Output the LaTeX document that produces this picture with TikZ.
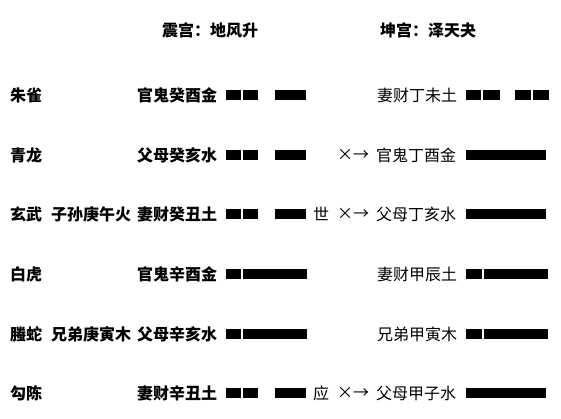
\documentclass[tikz,border=0pt]{standalone}
\usepackage{fontspec}
\setmainfont{Noto Sans CJK SC}
\begin{document}
\begin{tikzpicture}[x=1pt,y=-1pt,
  txt/.style={anchor=west,inner sep=0pt,font=\fontsize{16}{17}\selectfont},
  btxt/.style={txt,font=\fontsize{16}{17}\selectfont\bfseries},
  bar/.style={fill=black}]
\useasboundingbox (0,0) rectangle (561,419);
% titles
\node[btxt] (t1) at (162,30) {震宫：地风升};
\node[btxt] (t2) at (380,30) {坤宫：泽天夬};
% rows
\def\ra{95}\def\rb{155}\def\rc{214}\def\rd{274}\def\re{334}\def\rf{393}
\node[btxt] (g1) at (10,\ra) {朱雀};
\node[btxt] (g2) at (10,\rb) {青龙};
\node[btxt] (g3) at (10,\rc) {玄武};
\node[btxt] (g4) at (10,\rd) {白虎};
\node[btxt] (g5) at (10,\re) {螣蛇};
\node[btxt] (g6) at (10,\rf) {勾陈};
\node[btxt] (f3) at (51,\rc) {子孙庚午火};
\node[btxt] (f5) at (51,\re) {兄弟庚寅木};
\node[btxt] (l1) at (137,\ra) {官鬼癸酉金};
\node[btxt] (l2) at (137,\rb) {父母癸亥水};
\node[btxt] (l3) at (137,\rc) {妻财癸丑土};
\node[btxt] (l4) at (137,\rd) {官鬼辛酉金};
\node[btxt] (l5) at (137,\re) {父母辛亥水};
\node[btxt] (l6) at (137,\rf) {妻财辛丑土};
\node[txt] (shi) at (313,\rc) {世};
\node[txt] (ying) at (313,\rf) {应};
\node[txt] (m2) at (337,\rb) {×→};
\node[txt] (m3) at (337,\rc) {×→};
\node[txt] (m6) at (337,\rf) {×→};
\node[txt] (r1) at (377,\ra) {妻财丁未土};
\node[txt] (r2) at (376,\rb) {官鬼丁酉金};
\node[txt] (r3) at (376,\rc) {父母丁亥水};
\node[txt] (r4) at (377,\rd) {妻财甲辰土};
\node[txt] (r5) at (377,\re) {兄弟甲寅木};
\node[txt] (r6) at (376,\rf) {父母甲子水};
% left bars
\foreach \y in {\ra,\rb,\rc,\rf}{
  \fill[bar] (226,\y-5) rectangle (241,\y+5);
  \fill[bar] (243,\y-5) rectangle (258,\y+5);
  \fill[bar] (275,\y-5) rectangle (306,\y+5);
}
\foreach \y in {\rd,\re}{
  \fill[bar] (226,\y-5) rectangle (241,\y+5);
  \fill[bar] (243,\y-5) rectangle (307,\y+5);
}
% right bars
\foreach \y in {\ra}{
  \fill[bar] (466,\y-5) rectangle (481,\y+5);
  \fill[bar] (483,\y-5) rectangle (500,\y+5);
  \fill[bar] (515,\y-5) rectangle (531,\y+5);
  \fill[bar] (533,\y-5) rectangle (549,\y+5);
}
\foreach \y in {\rb,\rc,\rf}{
  \fill[bar] (466,\y-5) rectangle (546,\y+5);
}
\foreach \y in {\rd,\re}{
  \fill[bar] (466,\y-5) rectangle (482,\y+5);
  \fill[bar] (484,\y-5) rectangle (548,\y+5);
}
\end{tikzpicture}
\end{document}
